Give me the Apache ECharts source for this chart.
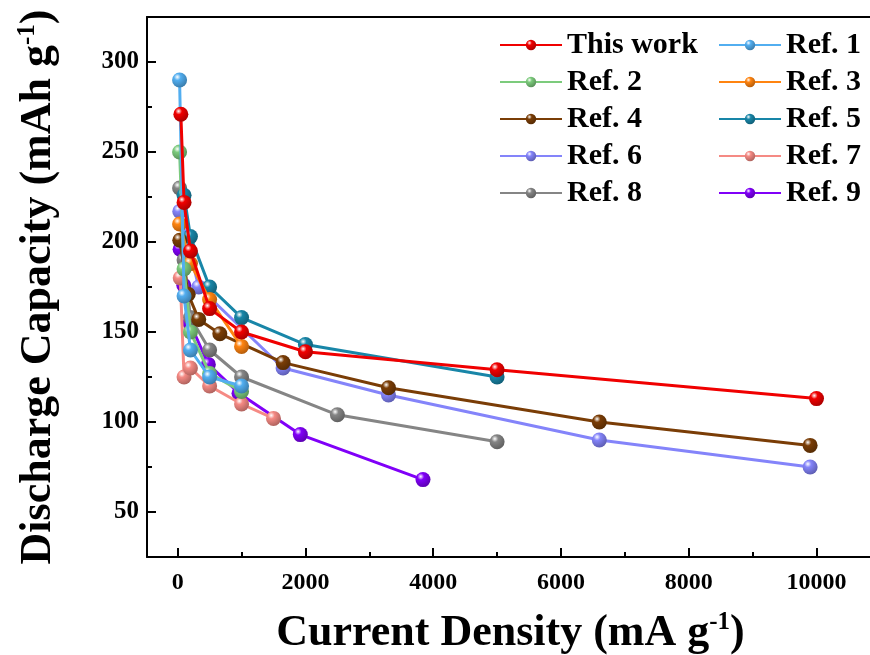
<!DOCTYPE html>
<html>
<head>
<meta charset="utf-8">
<script src="https://cdn.jsdelivr.net/npm/echarts@6/dist/echarts.min.js"></script>
<style>
html, body { margin: 0; padding: 0; background: #fff; overflow: hidden; }
#chart { width: 870px; height: 655px; }
</style>
</head>
<body>
<div id="chart"></div>
<script>
// 数据 [电流密度, 放电容量]
var thisWork = [[50, 271], [100, 222], [200, 195], [500, 163], [1000, 150], [2000, 139], [5000, 129], [10000, 113]];
var ref1 = [[30, 290], [100, 170], [200, 140], [500, 125], [1000, 120]];
var ref2 = [[30, 250], [100, 185], [200, 150], [500, 127], [1000, 117]];
var ref3 = [[30, 210], [200, 188], [500, 168], [1000, 142]];
var ref4 = [[33, 201], [165, 171], [330, 157], [660, 149], [1650, 133], [3300, 119], [6600, 100], [9900, 87]];
var ref5 = [[100, 226], [200, 203], [500, 175], [1000, 158], [2000, 143], [5000, 125]];
var ref6 = [[33, 217], [330, 175], [1650, 130], [3300, 115], [6600, 90], [9900, 75]];
var ref7 = [[40, 180], [100, 125], [200, 130], [500, 120], [1000, 110], [1500, 102]];
var ref8 = [[30, 230], [100, 190], [200, 158], [500, 140], [1000, 125], [2500, 104], [5000, 89]];
var ref9 = [[38, 196], [96, 176], [192, 155], [480, 132], [960, 116], [1920, 93], [3840, 68]];

var seriesNames = ['This work', 'Ref. 1', 'Ref. 2', 'Ref. 3', 'Ref. 4', 'Ref. 5', 'Ref. 6', 'Ref. 7', 'Ref. 8', 'Ref. 9'];
var seriesData = [thisWork, ref1, ref2, ref3, ref4, ref5, ref6, ref7, ref8, ref9];
var seriesColor = ['#f00000', '#52aef0', '#7ccb7c', '#ff8410', '#7a3d06', '#1886a8', '#8484fa', '#f58a84', '#858585', '#8000f8'];

// 刻度
var xMajor = [0, 2000, 4000, 6000, 8000, 10000];
var xMinor = [1000, 3000, 5000, 7000, 9000];
var yMajor = [50, 100, 150, 200, 250, 300];
var yMinor = [75, 125, 175, 225, 275];

var FONT = '"Liberation Serif", "Times New Roman", serif';

function darken(hex, k) {
	var n = parseInt(hex.slice(1), 16);
	var r = Math.round(((n >> 16) & 255) * k);
	var g = Math.round(((n >> 8) & 255) * k);
	var b = Math.round((n & 255) * k);
	return 'rgb(' + r + ',' + g + ',' + b + ')';
}
// 球形标记
function ball(c) {
	return new echarts.graphic.RadialGradient(0.35, 0.3, 0.75, [
		{ offset: 0, color: '#ffffff' },
		{ offset: 0.3, color: c },
		{ offset: 1, color: darken(c, 0.7) }
	]);
}

var myChart = echarts.init(document.getElementById('chart'));

var series = [];
// 本工作最后绘制，置于最上层
for (var i = seriesNames.length - 1; i >= 0; i--) {
	series.push({
		name: seriesNames[i],
		type: 'line',
		data: seriesData[i],
		symbol: 'circle',
		symbolSize: 15,
		z: 10 - i,
		lineStyle: { color: seriesColor[i], width: 3 },
		itemStyle: { color: ball(seriesColor[i]), borderWidth: 0 },
		emphasis: { disabled: true }
	});
}

var legendText = { fontFamily: FONT, fontWeight: 'bold', fontSize: 30, color: '#000' };
var titleRich = {
	a: { fontFamily: FONT, fontWeight: 'bold', fontSize: 44, color: '#000', lineHeight: 48 },
	s: { fontFamily: FONT, fontWeight: 'bold', fontSize: 25, color: '#000', lineHeight: 48, verticalAlign: 'top' }
};

var option = {
	animation: false,
	backgroundColor: '#fff',
	grid: {
		left: 147,
		top: 17,
		right: -4,
		bottom: 98,
		outerBoundsMode: 'none',
		containLabel: false,
		show: false
	},
	legend: [{
		orient: 'vertical',
		left: 494,
		top: 25,
		itemWidth: 62,
		itemHeight: 13,
		itemGap: 7,
		textStyle: legendText,
		data: ['This work', 'Ref. 2', 'Ref. 4', 'Ref. 6', 'Ref. 8']
	}, {
		orient: 'vertical',
		left: 713,
		top: 25,
		itemWidth: 62,
		itemHeight: 13,
		itemGap: 7,
		textStyle: legendText,
		data: ['Ref. 1', 'Ref. 3', 'Ref. 5', 'Ref. 7', 'Ref. 9']
	}],
	xAxis: [{
		type: 'value',
		min: -480,
		max: 10900,
		axisLine: { show: true, onZero: false, lineStyle: { color: '#000', width: 2 } },
		axisTick: { show: true, inside: true, length: 9, customValues: xMajor, lineStyle: { color: '#000', width: 2 } },
		axisLabel: {
			customValues: xMajor, margin: 14, fontFamily: FONT, fontWeight: 'bold', fontSize: 24, color: '#000',
			formatter: function(v) { return String(v); }
		},
		splitLine: { show: false },
		name: '{a|Current Density (mA g}{s|-1}{a|)}',
		nameLocation: 'middle',
		nameGap: 53,
		nameTextStyle: { rich: titleRich }
	}, {
		type: 'value',
		min: -480,
		max: 10900,
		position: 'bottom',
		axisLine: { show: false, onZero: false },
		axisTick: { show: true, inside: true, length: 5, customValues: xMinor, lineStyle: { color: '#000', width: 2 } },
		axisLabel: { show: false },
		splitLine: { show: false }
	}, {
		// 上边框
		type: 'value',
		min: -480,
		max: 10900,
		position: 'top',
		axisLine: { show: true, onZero: false, lineStyle: { color: '#000', width: 2 } },
		axisTick: { show: false },
		axisLabel: { show: false },
		splitLine: { show: false }
	}],
	yAxis: [{
		type: 'value',
		min: 25,
		max: 325,
		position: 'left',
		axisLine: { show: true, onZero: false, lineStyle: { color: '#000', width: 2 } },
		axisTick: { show: true, inside: true, length: 9, customValues: yMajor, lineStyle: { color: '#000', width: 2 } },
		axisLabel: { customValues: yMajor, margin: 8, fontFamily: FONT, fontWeight: 'bold', fontSize: 25, color: '#000' },
		splitLine: { show: false },
		name: '{a|Discharge Capacity (mAh g}{s|-1}{a|)}',
		nameLocation: 'middle',
		nameGap: 84,
		nameTextStyle: { rich: titleRich }
	}, {
		// 次刻度
		type: 'value',
		min: 25,
		max: 325,
		position: 'left',
		axisLine: { show: false, onZero: false },
		axisTick: { show: true, inside: true, length: 5, customValues: yMinor, lineStyle: { color: '#000', width: 2 } },
		axisLabel: { show: false },
		splitLine: { show: false }
	}],
	series: series
};
myChart.setOption(option);
window.onresize = myChart.resize;
</script>
</body>
</html>
